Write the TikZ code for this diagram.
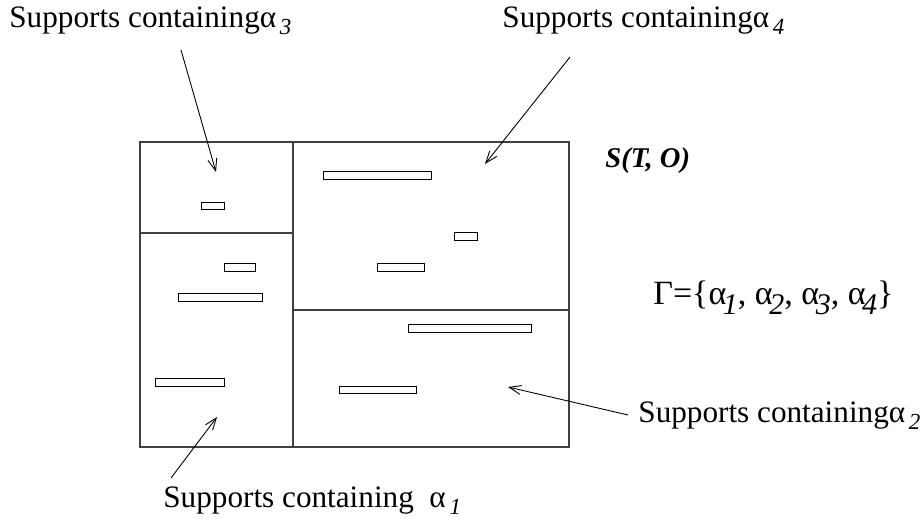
\documentclass[tikz,border=0pt]{standalone}
\usepackage{fontspec}
\setmainfont{Liberation Serif}
\usetikzlibrary{arrows.meta}
\newcommand{\lsub}[1]{\kern0.12em\raisebox{-3.5pt}{\fontsize{11.5}{11.5}\selectfont\itshape #1}}
\newcommand{\gsub}[1]{\kern-0.1em\raisebox{-5pt}{\fontsize{15}{15}\selectfont\itshape #1}}
\tikzset{
  region/.style={draw=black!75, line width=0.75pt},
  supbar/.style={draw=black, line width=0.5pt},
  pointer/.style={-{Straight Barb[length=6pt,width=4.5pt]}, line width=0.45pt},
  caption/.style={anchor=base west, inner sep=0pt, font=\fontsize{15.6}{18}\selectfont}
}

\begin{document}
\begin{tikzpicture}[x=0.5pt, y=-0.5pt]
  \useasboundingbox (0,0) rectangle (922,523);
  % the space S(T,O) and its parts
  \draw[region] (140,142) rectangle (569,447);
  \draw[region] (293,142) -- (293,447);
  \draw[region] (140,233) -- (293,233);
  \draw[region] (293,310) -- (569,310);
  % supports
  \draw[supbar] (201,203) rectangle (224,210);
  \draw[supbar] (224,264) rectangle (255,272);
  \draw[supbar] (178,294) rectangle (262,302);
  \draw[supbar] (155,379) rectangle (224,387);
  \draw[supbar] (323,172) rectangle (431,180);
  \draw[supbar] (454,233) rectangle (477,241);
  \draw[supbar] (377,264) rectangle (424,272);
  \draw[supbar] (408,325) rectangle (531,333);
  \draw[supbar] (339,387) rectangle (416,394);
  % labels
  \node[caption] (lab3) at (9,28) {Supports containingα\lsub{3}};
  \node[caption] (lab4) at (502,28) {Supports containingα\lsub{4}};
  \node[caption] (lab2) at (638,423) {Supports containingα\lsub{2}};
  \node[caption] (lab1) at (163,508) {Supports containing\ \ α\lsub{1}};
  \node[anchor=base west, inner sep=0pt, font=\fontsize{14.3}{16}\selectfont\bfseries\itshape] (space) at (605,168) {S(T, O)};
  \node[anchor=base west, inner sep=0pt, font=\fontsize{17}{20}\selectfont] (gamma) at (653,305)
    {Γ=\{α\gsub{1}, α\gsub{2}, α\gsub{3}, α\gsub{4}\}};
  % pointers
  \coordinate (from3) at (181,50);
  \coordinate (to3) at (216,172);
  \coordinate (from4) at (570,57);
  \coordinate (to4) at (485,164);
  \coordinate (from2) at (628,415);
  \coordinate (to2) at (508,387);
  \coordinate (from1) at (171,478);
  \coordinate (to1) at (217,417);
  \draw[pointer] (from3) -- (to3);
  \draw[pointer] (from4) -- (to4);
  \draw[pointer] (from2) -- (to2);
  \draw[pointer] (from1) -- (to1);
\end{tikzpicture}
\end{document}
